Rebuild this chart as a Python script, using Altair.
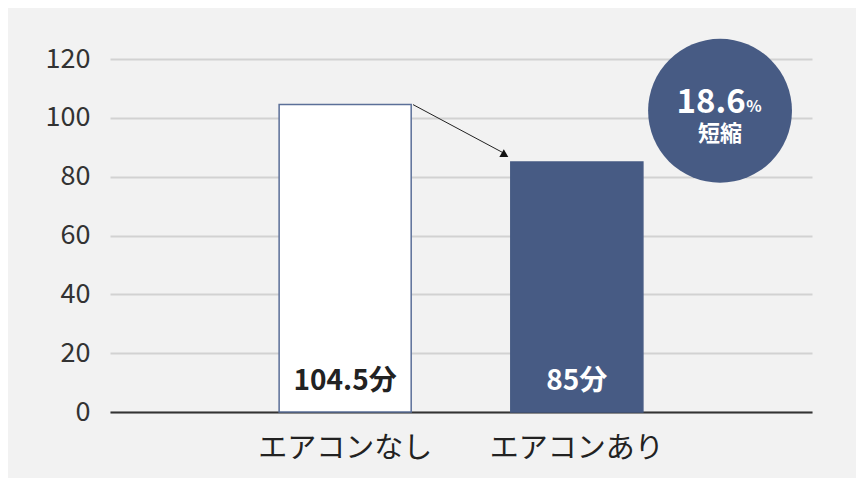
import altair as alt
import pandas as pd

categories = ["エアコンなし", "エアコンあり"]
minutes = [104.5, 85]
value_labels = ["104.5分", "85分"]
reduction_pct = "18.6"
reduction_unit = "%"
reduction_word = "短縮"
y_ticks = [0, 20, 40, 60, 80, 100, 120]

FONT = "Noto Sans CJK JP"
NAVY = "#475b84"

bars_df = pd.DataFrame({"cat": categories, "min": minutes, "label": value_labels})

xcat = alt.X(
    "cat:N",
    sort=categories,
    scale=alt.Scale(paddingInner=0.43, paddingOuter=0.73),
    axis=alt.Axis(
        title=None, labelAngle=0, labelFontSize=29, labelColor="#222",
        labelPadding=22, ticks=False, domainColor="#333", domainWidth=2,
        grid=False, labelFont=FONT,
    ),
)
yq = alt.Y(
    "min:Q",
    scale=alt.Scale(domain=[0, 120]),
    axis=alt.Axis(
        title=None, values=y_ticks, labelFontSize=27, labelColor="#333",
        labelPadding=20, ticks=False, domain=False, gridColor="#d2d2d2",
        gridWidth=2, labelFont=FONT,
    ),
)

bars = alt.Chart(bars_df).mark_bar(strokeWidth=1.5).encode(
    x=xcat,
    y=yq,
    fill=alt.Fill("cat:N", scale=alt.Scale(domain=categories, range=["#ffffff", NAVY]), legend=None),
    stroke=alt.Stroke("cat:N", scale=alt.Scale(domain=categories, range=["#5b6f98", NAVY]), legend=None),
)

labels = alt.Chart(bars_df).mark_text(
    fontSize=28, fontWeight="bold", baseline="alphabetic", dy=-22, font=FONT
).encode(
    x=alt.X("cat:N", sort=categories),
    y=alt.datum(0),
    text="label:N",
    color=alt.Color("cat:N", scale=alt.Scale(domain=categories, range=["#222222", "#ffffff"]), legend=None),
)

main = alt.layer(bars, labels)

# annotation layer on its own linear x scale (0..3, categories at 1 and 2)
xa = alt.Scale(domain=[0, 3])
ya = alt.Scale(domain=[0, 120])
arrow_df = pd.DataFrame({"x0": [1.295], "x1": [1.683], "y0": [104.5], "y1": [88.0]})
arrow = alt.Chart(arrow_df).mark_rule(color="#222", strokeWidth=1).encode(
    x=alt.X("x0:Q", scale=xa, axis=None),
    x2="x1:Q",
    y=alt.Y("y0:Q", scale=ya, axis=None),
    y2="y1:Q",
)
head = alt.Chart(arrow_df).mark_point(shape="triangle-up", filled=True, size=80, color="#111", opacity=1).encode(
    x=alt.X("x1:Q", scale=xa, axis=None),
    y=alt.Y("y1:Q", scale=ya, axis=None),
)

badge_df = pd.DataFrame({"bx": [2.607], "by": [102.4], "pct": [reduction_pct], "unit": [reduction_unit], "word": [reduction_word]})
bx = alt.X("bx:Q", scale=xa, axis=None)
by = alt.Y("by:Q", scale=ya, axis=None)
circle = alt.Chart(badge_df).mark_point(shape="circle", filled=True, size=20700, color=NAVY, opacity=1).encode(x=bx, y=by)
pct = alt.Chart(badge_df).mark_text(fontSize=33, fontWeight="bold", color="white", baseline="alphabetic", dx=-9, dy=2, font=FONT).encode(x=bx, y=by, text="pct:N")
unit = alt.Chart(badge_df).mark_text(fontSize=16, fontWeight="bold", color="white", baseline="alphabetic", dx=34, dy=1, font=FONT).encode(x=bx, y=by, text="unit:N")
word = alt.Chart(badge_df).mark_text(fontSize=22, fontWeight="bold", color="white", baseline="middle", dx=0, dy=23, font=FONT).encode(x=bx, y=by, text="word:N")

overlay = alt.layer(arrow, head, circle, pct, unit, word)

chart = alt.layer(main, overlay).resolve_scale(x="independent", y="shared").resolve_axis(
    x="independent", y="independent"
).properties(
    width=702, height=353,
    autosize=alt.AutoSizeParams(type="none"),
    padding={"left": 102, "top": 51, "right": 44, "bottom": 66},
    background="#f2f2f2",
).configure(font=FONT).configure_view(strokeWidth=0, stroke="transparent")

chart.save("out.html", embed_options={"renderer": "svg", "actions": False})
